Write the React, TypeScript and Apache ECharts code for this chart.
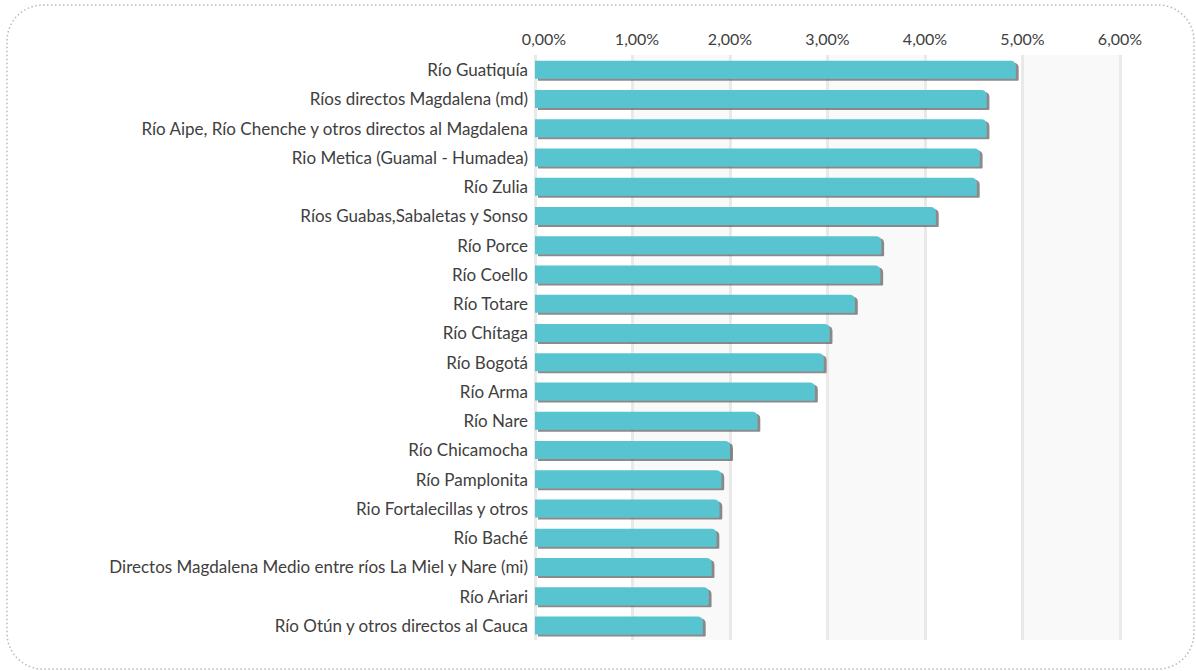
import React, { useEffect, useRef } from "react";
import * as echarts from "echarts";

const categories: string[] = [
  "Río Guatiquía",
  "Ríos directos Magdalena (md)",
  "Río Aipe, Río Chenche y otros directos al Magdalena",
  "Rio Metica (Guamal - Humadea)",
  "Río Zulia",
  "Ríos Guabas,Sabaletas y Sonso",
  "Río Porce",
  "Río Coello",
  "Río Totare",
  "Río Chítaga",
  "Río Bogotá",
  "Río Arma",
  "Río Nare",
  "Río Chicamocha",
  "Río Pamplonita",
  "Rio Fortalecillas y otros",
  "Río Baché",
  "Directos Magdalena Medio entre ríos La Miel y Nare (mi)",
  "Río Ariari",
  "Río Otún y otros directos al Cauca",
];

const values: number[] = [
  4.93, 4.63, 4.63, 4.56, 4.53, 4.11, 3.55, 3.54, 3.28, 3.02, 2.96, 2.87, 2.28,
  2.0, 1.91, 1.89, 1.86, 1.81, 1.78, 1.72,
];

const axisMin = 0;
const axisMax = 6;
const axisStep = 1;

const fmt = (v: number) => {
  const s = v.toFixed(2).replace(".", ",") + "%";
  if (v === 0) return "{s0|" + s + "}";
  if (v === 1) return "{s1|" + s + "}";
  return "{n|" + s + "}";
};

const labelBase = { color: "#404040", fontSize: 16, fontFamily: "Lato" };

export default function App() {
  const ref = useRef<HTMLDivElement>(null);
  useEffect(() => {
    if (!ref.current) return;
    const chart = echarts.init(ref.current, null, { renderer: "svg" });
    chart.setOption({
      animation: false,
      textStyle: { fontFamily: "Lato" },
      graphic: [
        {
          type: "rect",
          shape: { x: 7, y: 5, width: 1187, height: 664, r: 36 },
          style: {
            fill: "none",
            stroke: "#b8b8b8",
            lineWidth: 1.5,
            lineDash: [1.5, 2.5],
          },
          silent: true,
        },
      ],
      grid: { left: 535, right: 76, top: 55, bottom: 31 },
      xAxis: {
        type: "value",
        position: "top",
        min: axisMin,
        max: axisMax,
        interval: axisStep,
        axisLine: { show: false },
        axisTick: { show: false },
        axisLabel: {
          formatter: fmt,
          ...labelBase,
          margin: 9,
          rich: {
            s0: { ...labelBase, padding: [0, 0, 0, 18] },
            s1: { ...labelBase, padding: [0, 0, 0, 9] },
            n: { ...labelBase },
          },
        },
        splitLine: { show: true, lineStyle: { color: "#e9e9e9", width: 3 } },
        splitArea: {
          show: true,
          areaStyle: { color: ["#ffffff", "#f9f9f9"] },
        },
      },
      yAxis: {
        type: "category",
        inverse: true,
        data: categories,
        axisLine: { show: false },
        axisTick: { show: false },
        axisLabel: {
          color: "#404040",
          fontSize: 17,
          fontFamily: "Lato",
          margin: 7,
        },
      },
      series: [
        {
          type: "bar",
          data: values,
          barWidth: 18,
          itemStyle: {
            color: "#58c4d0",
            borderRadius: [0, 5, 1, 0],
            shadowColor: "rgba(90,90,90,0.7)",
            shadowOffsetX: 3,
            shadowOffsetY: 2,
            shadowBlur: 0,
          },
        },
      ],
    });
    return () => chart.dispose();
  }, []);
  return (
    <div
      ref={ref}
      style={{ position: "absolute", left: 0, top: 0, width: 1196, height: 671 }}
    />
  );
}
